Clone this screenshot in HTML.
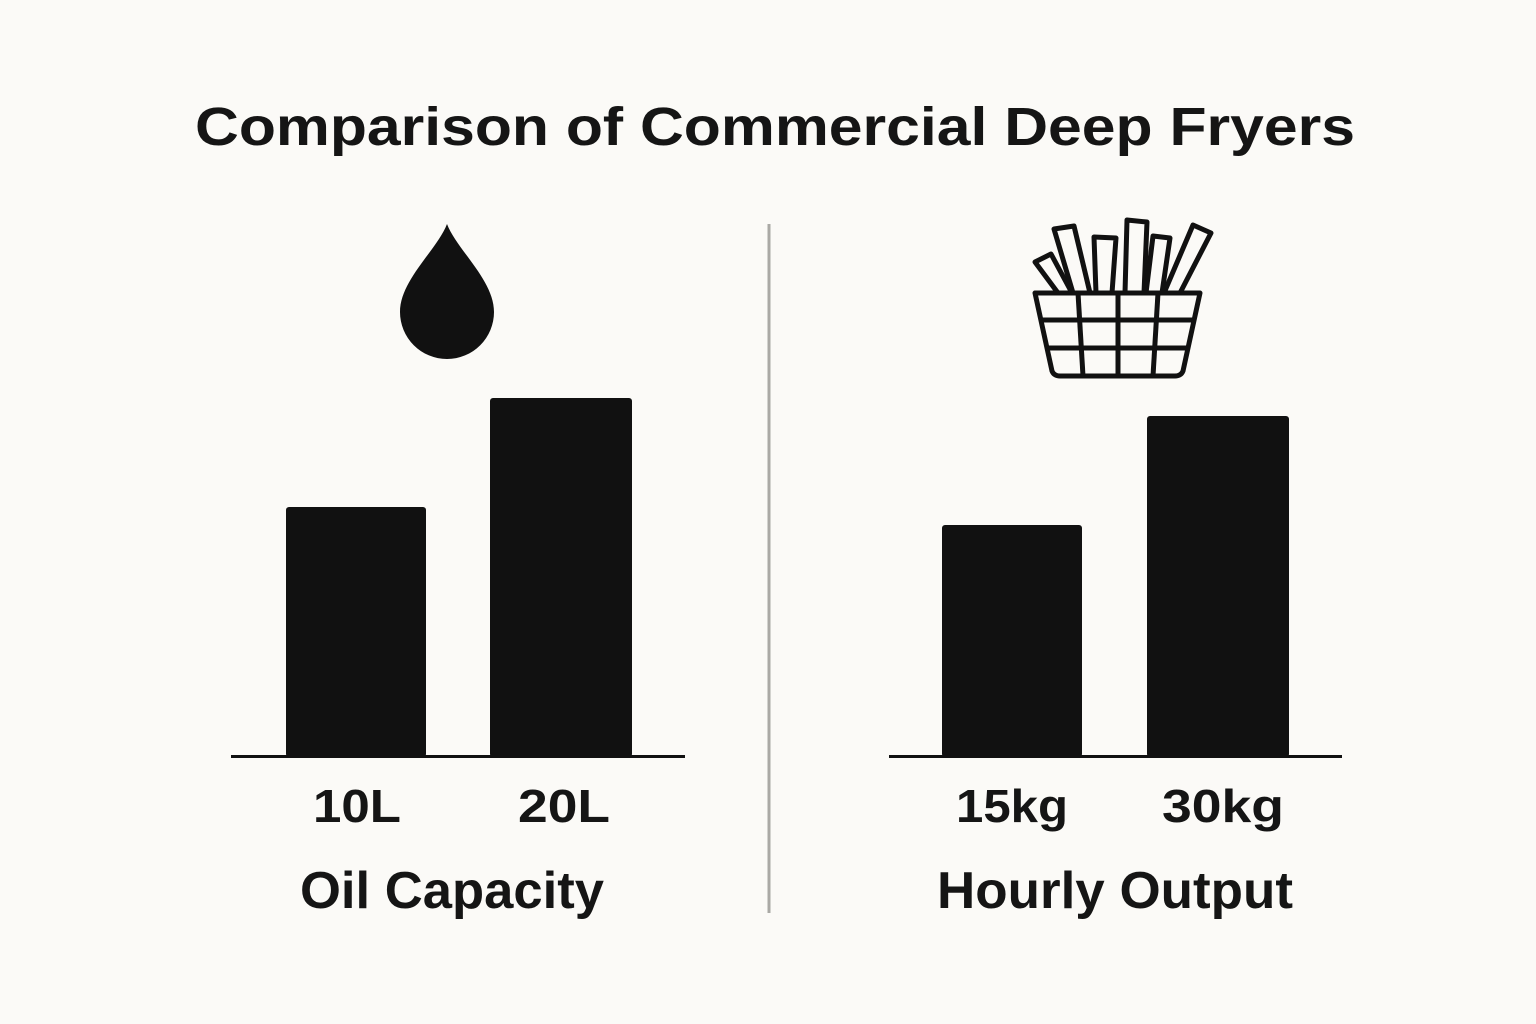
<!DOCTYPE html>
<html><head><meta charset="utf-8"><style>
html,body{margin:0;padding:0;background:#fbfaf7;}
svg{display:block}
text{font-family:"Liberation Sans",sans-serif;fill:#151515}
</style></head><body>
<svg width="1536" height="1024" viewBox="0 0 1536 1024" xmlns="http://www.w3.org/2000/svg">
<rect width="1536" height="1024" fill="#fbfaf7"/>
<text x="195" y="145" font-size="54" font-weight="bold" textLength="1160" lengthAdjust="spacingAndGlyphs">Comparison of Commercial Deep Fryers</text>
<line x1="769" y1="224" x2="769" y2="913" stroke="#aaa9a5" stroke-width="3"/>
<!-- drop -->
<path d="M447 224 C437 250 400 280 400 312 A47 47 0 0 0 494 312 C494 280 457 250 447 224 Z" fill="#111"/>
<!-- left bars -->
<rect x="286" y="507" width="140" height="250" rx="3" fill="#111"/>
<rect x="490" y="398" width="142" height="359" rx="3" fill="#111"/>
<line x1="231" y1="756.5" x2="685" y2="756.5" stroke="#111" stroke-width="3"/>
<text x="313" y="822" font-size="46" font-weight="bold" textLength="88" lengthAdjust="spacingAndGlyphs">10L</text>
<text x="518" y="822" font-size="46" font-weight="bold" textLength="92" lengthAdjust="spacingAndGlyphs">20L</text>
<text x="300" y="908" font-size="52" font-weight="bold" textLength="304" lengthAdjust="spacingAndGlyphs">Oil Capacity</text>
<!-- right bars -->
<rect x="942" y="525" width="140" height="232" rx="3" fill="#111"/>
<rect x="1147" y="416" width="142" height="341" rx="3" fill="#111"/>
<line x1="889" y1="756.5" x2="1342" y2="756.5" stroke="#111" stroke-width="3"/>
<text x="956" y="822" font-size="46" font-weight="bold" textLength="112" lengthAdjust="spacingAndGlyphs">15kg</text>
<text x="1162" y="822" font-size="46" font-weight="bold" textLength="122" lengthAdjust="spacingAndGlyphs">30kg</text>
<text x="937" y="908" font-size="52" font-weight="bold" textLength="356" lengthAdjust="spacingAndGlyphs">Hourly Output</text>
<!-- fries icon -->
<g fill="none" stroke="#111" stroke-width="5" stroke-linejoin="round">
<polygon points="1035,262 1051,254 1072,293 1058,293"/>
<polygon points="1054,229 1074,226 1090,293 1073,293"/>
<polygon points="1094,237 1116,238 1112,293 1096,293"/>
<polygon points="1127,220 1147,222 1144,293 1125,293"/>
<polygon points="1153,236 1170,238 1162,293 1146,293"/>
<polygon points="1193,225 1211,233 1180,293 1164,293"/>
<path d="M1035 293 L1200 293 L1183 371 Q1181 376 1175 376 L1060 376 Q1054 376 1052 371 Z"/>
<line x1="1040" y1="320" x2="1194" y2="320"/>
<line x1="1046" y1="348" x2="1189" y2="348"/>
<line x1="1078" y1="293" x2="1083" y2="376"/>
<line x1="1118" y1="293" x2="1118" y2="376"/>
<line x1="1158" y1="293" x2="1153" y2="376"/>
</g>
</svg>
</body></html>
